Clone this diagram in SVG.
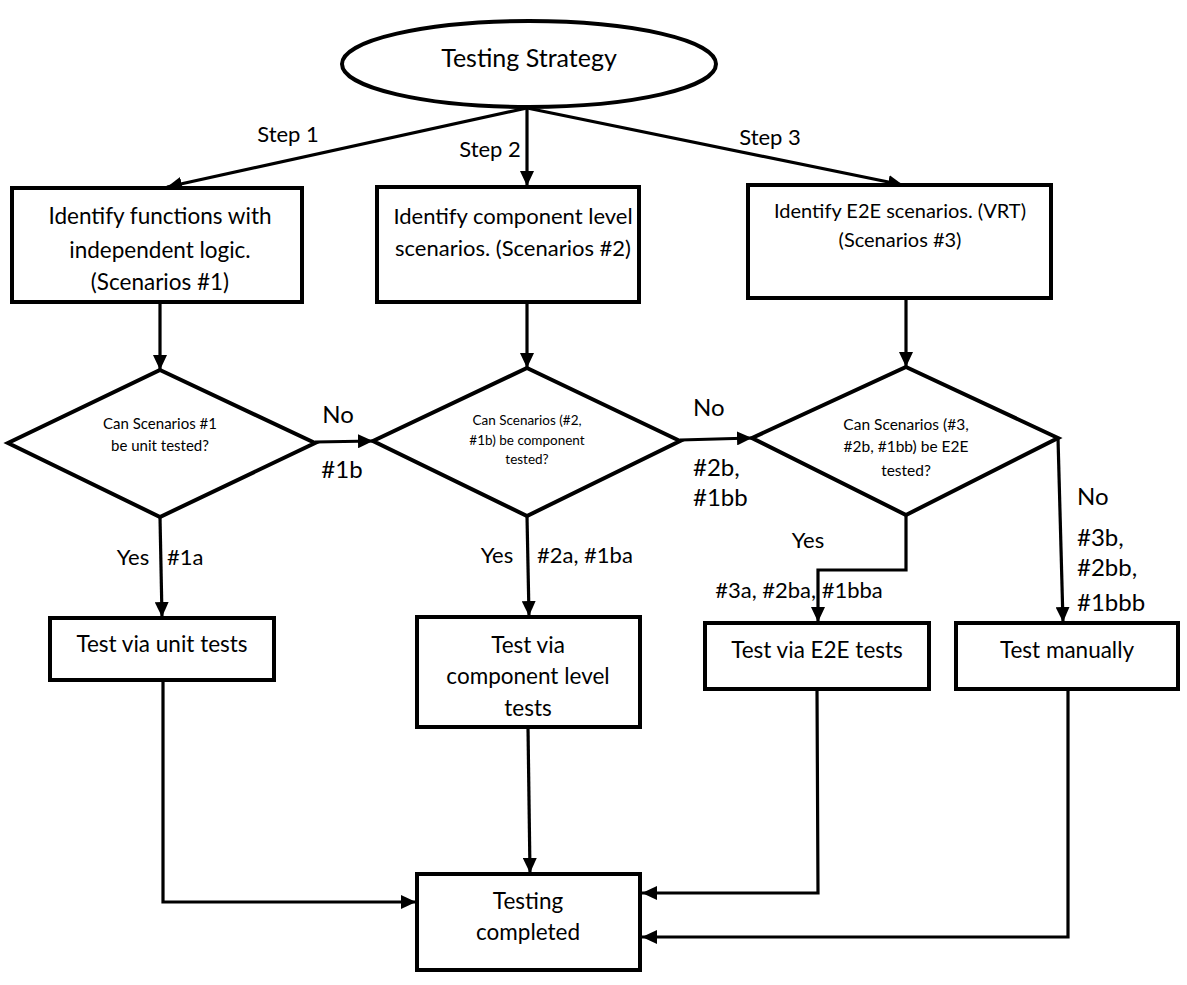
<svg xmlns="http://www.w3.org/2000/svg" width="1187" height="985" viewBox="0 0 1187 985">
<defs>
<style>
.shape{fill:#fff;stroke:#000;stroke-width:4}
.ln{fill:none;stroke:#000;stroke-width:3.2}
text{font-family:Lato,"Liberation Sans",sans-serif;fill:#000}
.c{text-anchor:middle}
.t24{font-size:22.5px}
.t22{font-size:22px}
.t20{font-size:20px}
.lbl{font-size:22px}
.big{font-size:24px}
</style>
<marker id="ah" markerUnits="userSpaceOnUse" markerWidth="16" markerHeight="14" refX="15" refY="7" orient="auto">
<path d="M0,0 L15,7 L0,14 z" fill="#000"/>
</marker>
</defs>
<rect width="1187" height="985" fill="#fff"/>

<g id="connectors">
<path class="ln" d="M527,108 L167,187" marker-end="url(#ah)"/>
<path class="ln" d="M527,108 L527,186" marker-end="url(#ah)"/>
<path class="ln" d="M527,108 L903,185" marker-end="url(#ah)"/>
<path class="ln" d="M160,302 L160,370" marker-end="url(#ah)"/>
<path class="ln" d="M527,302 L527,368" marker-end="url(#ah)"/>
<path class="ln" d="M906,298 L906,367" marker-end="url(#ah)"/>
<path class="ln" d="M315,442 L373,441" marker-end="url(#ah)"/>
<path class="ln" d="M680,440 L752,438" marker-end="url(#ah)"/>
<path class="ln" d="M160,517 L162,617" marker-end="url(#ah)"/>
<path class="ln" d="M527,516 L529,616" marker-end="url(#ah)"/>
<path class="ln" d="M906,515 L906,570 L818,570 L818,622" marker-end="url(#ah)"/>
<path class="ln" d="M1058,438 L1063,622" marker-end="url(#ah)"/>
<path class="ln" d="M163,680 L163,902 L416,902" marker-end="url(#ah)"/>
<path class="ln" d="M528,727 L530,873" marker-end="url(#ah)"/>
<path class="ln" d="M817,689 L818,893 L642,893" marker-end="url(#ah)"/>
<path class="ln" d="M1068,689 L1068,937 L642,937" marker-end="url(#ah)"/>
<text class="lbl c" x="288" y="142">Step 1</text>
<text class="lbl c" x="490" y="157">Step 2</text>
<text class="lbl c" x="770" y="145">Step 3</text>
<text class="big c" x="338" y="423">No</text>
<text class="big c" x="342" y="478">#1b</text>
<text class="big" x="693" y="416">No</text>
<text class="big" x="693" y="476">#2b,</text>
<text class="big" x="693" y="506">#1bb</text>
<text class="big" x="1077" y="505">No</text>
<text class="big" x="1077" y="546">#3b,</text>
<text class="big" x="1077" y="576">#2bb,</text>
<text class="big" x="1077" y="611">#1bbb</text>
<text class="lbl c" x="133" y="565">Yes</text>
<text class="lbl" x="167" y="565">#1a</text>
<text class="lbl c" x="497" y="563">Yes</text>
<text class="lbl" x="537" y="563">#2a, #1ba</text>
<text class="lbl c" x="808" y="548">Yes</text>
<text class="lbl c" x="799" y="598">#3a, #2ba, #1bba</text>
</g>

<g id="start">
<ellipse class="shape" cx="529" cy="64" rx="187" ry="43"/>
<text class="c" x="529" y="67" font-size="25">Testing Strategy</text>
</g>

<g id="step1">
<rect class="shape" x="12" y="188" width="290" height="114"/>
<text class="t24 c" x="160" y="224">Identify functions with</text>
<text class="t24 c" x="160" y="258">independent logic.</text>
<text class="t24 c" x="160" y="290">(Scenarios #1)</text>
</g>

<g id="step2">
<rect class="shape" x="377" y="187" width="262" height="115"/>
<text class="t22 c" x="513" y="224">Identify component level</text>
<text class="t22 c" x="513" y="256">scenarios. (Scenarios #2)</text>
</g>

<g id="step3">
<rect class="shape" x="748" y="185" width="303" height="113"/>
<text class="t20 c" x="900" y="218">Identify E2E scenarios. (VRT)</text>
<text class="t20 c" x="900" y="247">(Scenarios #3)</text>
</g>

<g id="decision1">
<polygon class="shape" points="160,370 315,443 160,517 8,443"/>
<text class="c" x="160" y="429" font-size="15">Can Scenarios #1</text>
<text class="c" x="160" y="451" font-size="15">be unit tested?</text>
</g>

<g id="decision2">
<polygon class="shape" points="527,368 680,441 527,516 373,441"/>
<text class="c" x="527" y="425" font-size="13.5">Can Scenarios (#2,</text>
<text class="c" x="527" y="445" font-size="13.5">#1b) be component</text>
<text class="c" x="527" y="464" font-size="13.5">tested?</text>
</g>

<g id="decision3">
<polygon class="shape" points="906,367 1058,438 906,515 752,438"/>
<text class="c" x="906" y="430" font-size="15.5">Can Scenarios (#3,</text>
<text class="c" x="906" y="452" font-size="15.5">#2b, #1bb) be E2E</text>
<text class="c" x="906" y="476" font-size="15.5">tested?</text>
</g>

<g id="unit">
<rect class="shape" x="50" y="618" width="224" height="62"/>
<text class="t24 c" x="162" y="652">Test via unit tests</text>
</g>

<g id="component">
<rect class="shape" x="417" y="617" width="223" height="110"/>
<text class="t24 c" x="528" y="653">Test via</text>
<text class="t24 c" x="528" y="684">component level</text>
<text class="t24 c" x="528" y="716">tests</text>
</g>

<g id="e2e">
<rect class="shape" x="705" y="623" width="224" height="66"/>
<text class="t24 c" x="817" y="658">Test via E2E tests</text>
</g>

<g id="manual">
<rect class="shape" x="956" y="623" width="222" height="66"/>
<text class="t24 c" x="1067" y="658">Test manually</text>
</g>

<g id="done">
<rect class="shape" x="417" y="874" width="223" height="96"/>
<text class="t24 c" x="528" y="909">Testing</text>
<text class="t24 c" x="528" y="940">completed</text>
</g>
</svg>
